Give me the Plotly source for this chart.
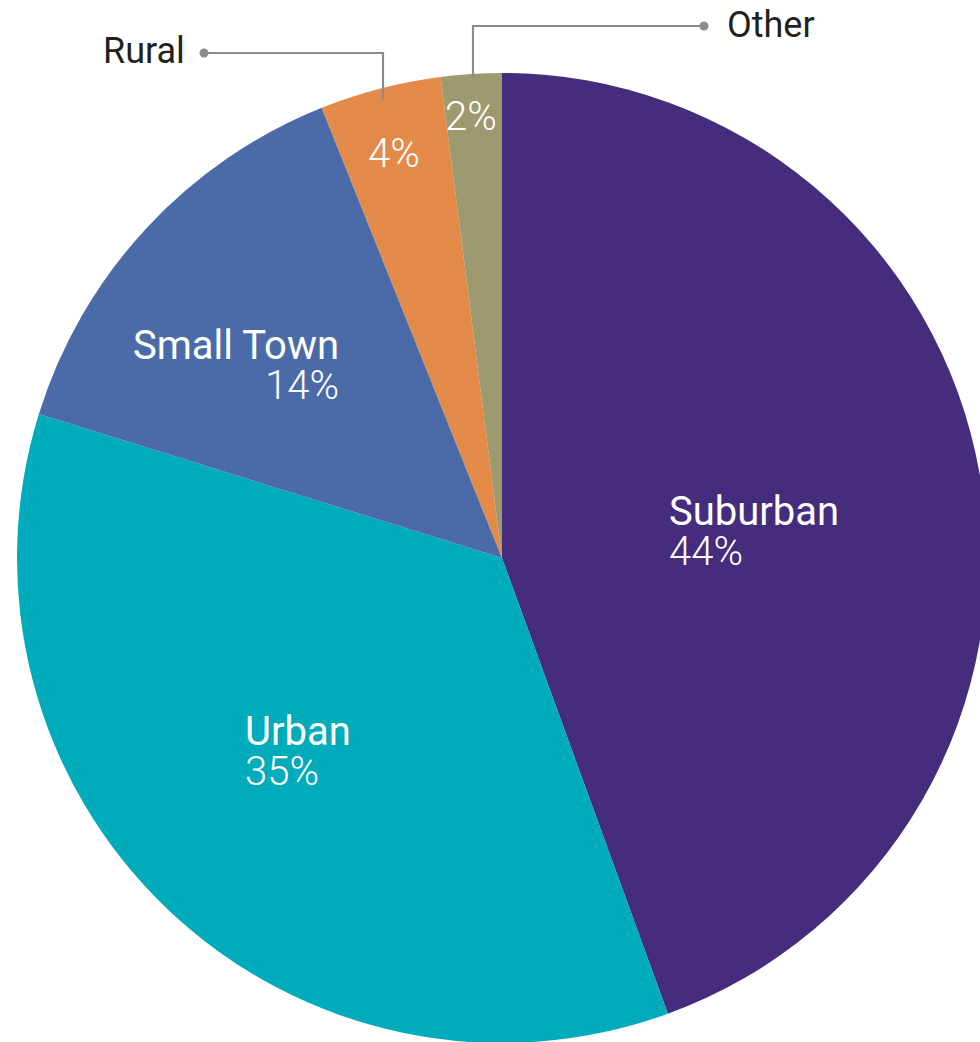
import plotly.graph_objects as go

# Share of respondents by community type
categories = ["Suburban", "Urban", "Small Town", "Rural", "Other"]
shares = [44, 35, 14, 4, 2]

slice_colors = ["#462C7D", "#00ABBB", "#4A6BA8", "#E38A48", "#9C9A6E"]

# Canvas and pie geometry (pixels)
W, H = 1004, 1043
CX, CY, R = 502, 558, 485

FONT = "Roboto"
DARK = "#231F20"
LEADER = "#8A8B8D"
INNER_SIZE = 40
OUTER_SIZE = 36
LINE_PITCH = 40  # distance between the name line and the value line
BASE_SIZE = LINE_PITCH / 1.3  # plotly spaces <br> lines by 1.3em of the base font


def px(x):
    return x / W


def py(y):
    return 1 - y / H


fig = go.Figure(
    go.Pie(
        labels=categories,
        values=shares,
        sort=False,
        direction="clockwise",
        rotation=0,
        marker=dict(colors=slice_colors, line=dict(width=0)),
        textinfo="none",
        hovertemplate="%{label}: %{value}%<extra></extra>",
        domain=dict(x=[px(CX - R), px(CX + R)], y=[py(CY + R), py(CY - R)]),
        showlegend=False,
    )
)

share_of = dict(zip(categories, shares))
annotations = []
shapes = []


def stacked(name, value):
    return (
        f"<span style='font-size:{INNER_SIZE}px;font-weight:400'>{name}</span><br>"
        f"<span style='font-size:{INNER_SIZE}px;font-weight:300'>{value}%</span>"
    )


# Name + value labels placed inside the larger slices (x, block centre y, side)
inside_labels = {
    "Suburban": (668, 531, "left"),
    "Urban": (244, 751, "left"),
    "Small Town": (340, 366, "right"),
}
for name, (x, y, side) in inside_labels.items():
    annotations.append(dict(
        x=px(x), y=py(y), xref="paper", yref="paper",
        text=stacked(name, share_of[name]), showarrow=False,
        xanchor=side, yanchor="middle", align=side, borderpad=0,
        font=dict(family=FONT, size=BASE_SIZE, color="white"),
    ))

# Value-only labels in the thin slices
thin_values = {"Rural": (394, 153), "Other": (471, 116)}
for name, (x, y) in thin_values.items():
    annotations.append(dict(
        x=px(x), y=py(y), xref="paper", yref="paper",
        text=f"{share_of[name]}%", showarrow=False, xanchor="center", yanchor="middle",
        borderpad=0,
        font=dict(family=FONT, size=INNER_SIZE, color="white", weight=300),
    ))

# Callout names with leader lines for the thin slices
callouts = {
    # name: (text x, text y, text anchor, dot x, dot y, elbow x, end y)
    "Rural": (187, 51, "right", 204, 53, 383, 100),
    "Other": (725, 25, "left", 704, 26, 473, 78),
}
for name, (tx, ty, anchor, dx, dy, ex, ey) in callouts.items():
    annotations.append(dict(
        x=px(tx), y=py(ty), xref="paper", yref="paper",
        text=name, showarrow=False, xanchor=anchor, yanchor="middle",
        font=dict(family=FONT, size=OUTER_SIZE, color=DARK, weight=400),
    ))
    shapes.append(dict(
        type="path", xref="paper", yref="paper",
        path=f"M {px(dx)} {py(dy)} L {px(ex)} {py(dy)} L {px(ex)} {py(ey)}",
        line=dict(color=LEADER, width=2.2),
    ))
    rdot = 4.5
    shapes.append(dict(
        type="circle", xref="paper", yref="paper",
        x0=px(dx - rdot), x1=px(dx + rdot), y0=py(dy + rdot), y1=py(dy - rdot),
        fillcolor=LEADER, line=dict(width=0),
    ))

fig.update_layout(
    width=W,
    height=H,
    margin=dict(l=0, r=0, t=0, b=0),
    paper_bgcolor="white",
    plot_bgcolor="white",
    annotations=annotations,
    shapes=shapes,
)

fig.write_html(
    "out.html",
    config={"displayModeBar": False},
    post_script=(
        "document.body.style.margin='0';"
        "document.body.style.overflow='hidden';"
        "document.documentElement.style.overflow='hidden';"
    ),
)
